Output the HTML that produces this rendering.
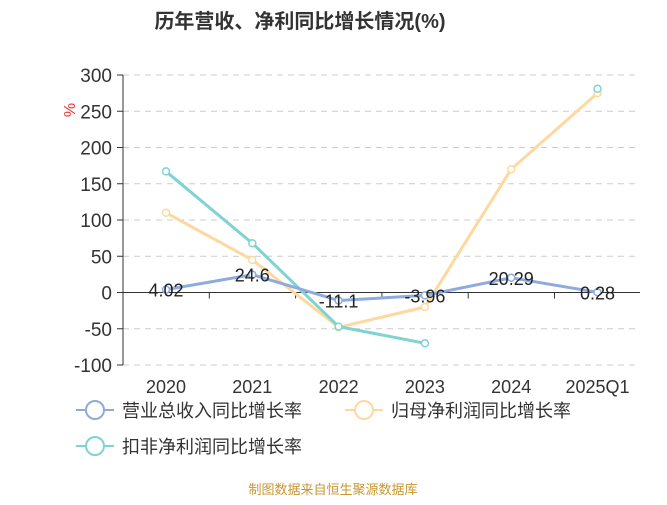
<!DOCTYPE html>
<html><head><meta charset="utf-8"><style>
body{margin:0;background:#fff;font-family:"Liberation Sans","Noto Sans CJK SC",sans-serif}
</style></head><body>
<svg id="c" width="667" height="500" xmlns="http://www.w3.org/2000/svg" style="font-family:'Liberation Sans','Noto Sans CJK SC',sans-serif">
<text x="300" y="28" text-anchor="middle" font-size="20" font-weight="bold" fill="#333">历年营收、净利同比增长情况(%)</text>
<text x="75" y="110" font-size="16" fill="#e33" transform="rotate(-90 75 110)" text-anchor="middle">%</text>
<g id="grid"></g><g id="series"></g>
<g>
<g><line x1="76" y1="410" x2="114" y2="410" stroke="#8faadc" stroke-width="2"/><circle cx="95" cy="410" r="9" fill="#fff" stroke="#8faadc" stroke-width="2"/><text x="122" y="417" font-size="18" fill="#333">营业总收入同比增长率</text></g>
<g><line x1="345" y1="410" x2="383" y2="410" stroke="#fdd9a0" stroke-width="2"/><circle cx="364" cy="410" r="9" fill="#fff" stroke="#fdd9a0" stroke-width="2"/><text x="391" y="417" font-size="18" fill="#333">归母净利润同比增长率</text></g>
<g><line x1="76" y1="446" x2="114" y2="446" stroke="#7fd3d3" stroke-width="2"/><circle cx="95" cy="446" r="9" fill="#fff" stroke="#7fd3d3" stroke-width="2"/><text x="122" y="453" font-size="18" fill="#333">扣非净利润同比增长率</text></g>
</g>
<text x="333" y="494" text-anchor="middle" font-size="13" fill="#c8962e">制图数据来自恒生聚源数据库</text>
</svg>
<script>
const categories=["2020","2021","2022","2023","2024","2025Q1"];
const revenue=[4.02,24.6,-11.1,-3.96,20.29,0.28];
const netProfit=[110,45,-48,-20,170,275];
const deducted=[167,68,-47,-70,null,281];
const yTicks=[300,250,200,150,100,50,0,-50,-100];
const NS="http://www.w3.org/2000/svg";
const y=v=>75+(300-v)*290/400;
const x=i=>166+i*86.3;
const g=document.getElementById('grid'),s=document.getElementById('series');
function mk(p,t,a){const e=document.createElementNS(NS,t);for(const k in a)e.setAttribute(k,a[k]);p.appendChild(e);return e;}
yTicks.forEach(v=>{
 const l=mk(g,'line',{x1:123,x2:640,y1:y(v),y2:y(v),stroke:v===0?'#333':'#ccc','stroke-dasharray':v===0?'':'6,5','stroke-width':1});
 
 
 mk(g,'line',{x1:117,x2:123,y1:y(v),y2:y(v),stroke:'#333'});
 const t=mk(g,'text',{x:112,y:y(v)+7,'text-anchor':'end','font-size':19,fill:'#333'});t.textContent=v;
 
 
});
mk(g,'line',{x1:123,x2:123,y1:75,y2:365,stroke:'#333'});
categories.forEach((c,i)=>{
 mk(g,'line',{x1:x(i)-43,x2:x(i)-43,y1:y(0),y2:y(0)+6,stroke:'#333'});
 const t=mk(g,'text',{x:x(i),y:393,'text-anchor':'middle','font-size':18,fill:'#333'});t.textContent=c;
 
 
});
function series(d,col,name,labels){
 let segs=[[]];
 d.forEach((v,i)=>{if(v===null){segs.push([]);}else segs[segs.length-1].push(x(i)+','+y(v));});
 segs.forEach(pts=>{if(pts.length<2)return;
  const p=mk(s,'polyline',{points:pts.join(' '),fill:'none',stroke:col,'stroke-width':3});
  
  
 });
 d.forEach((v,i)=>{if(v===null)return;
  const c=mk(s,'circle',{cx:x(i),cy:y(v),r:3.5,fill:'#fff',stroke:col,'stroke-width':1.5});
  
  
  if(labels){const t=mk(s,'text',{x:x(i),y:y(v)+7,'text-anchor':'middle','font-size':18,fill:'#222'});t.textContent=v;
   
   }
 });
}
series(netProfit,'#fdd9a0','net-profit',false);
series(deducted,'#7fd3d3','deducted-profit',false);
series(revenue,'#8faadc','revenue',true);
</script>
</body></html>
